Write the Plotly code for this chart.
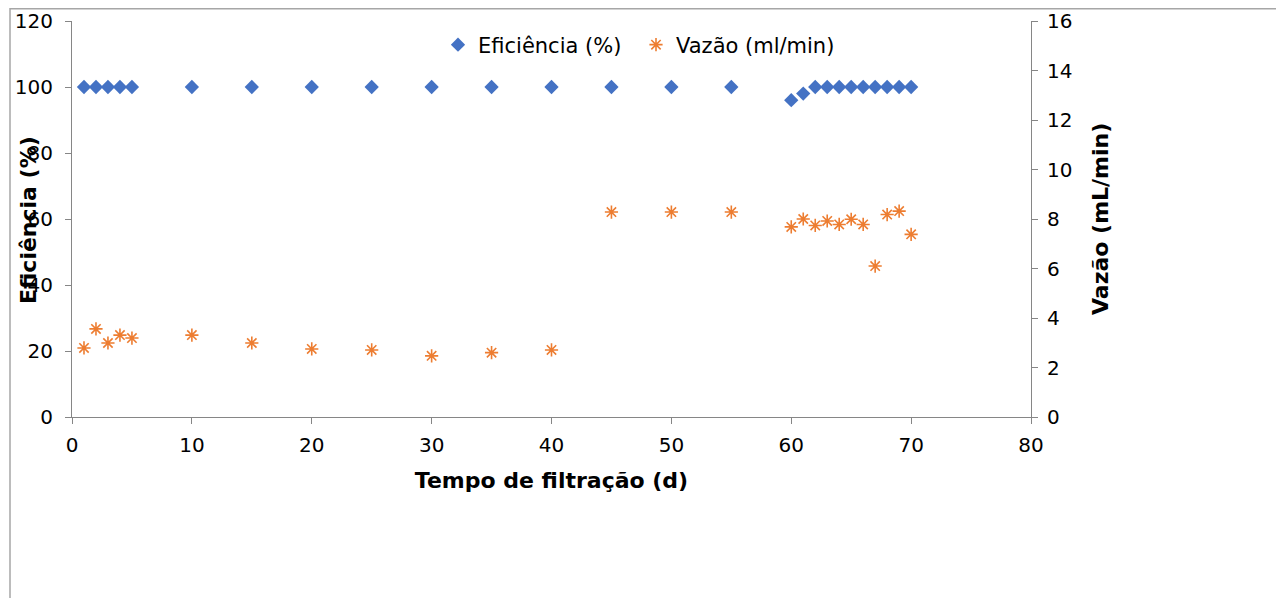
import plotly.graph_objects as go

# Data
dias_ef = [1, 2, 3, 4, 5, 10, 15, 20, 25, 30, 35, 40, 45, 50, 55, 60, 61, 62, 63, 64, 65, 66, 67, 68, 69, 70]
eficiencia = [100, 100, 100, 100, 100, 100, 100, 100, 100, 100, 100, 100, 100, 100, 100,
              96, 98, 100, 100, 100, 100, 100, 100, 100, 100, 100]
dias_vz = [1, 2, 3, 4, 5, 10, 15, 20, 25, 30, 35, 40, 45, 50, 55, 60, 61, 62, 63, 64, 65, 66, 67, 68, 69, 70]
vazao = [2.79, 3.56, 2.99, 3.31, 3.19, 3.31, 2.99, 2.75, 2.71, 2.47, 2.60, 2.71, 8.28, 8.28, 8.28,
         7.68, 8.0, 7.74, 7.92, 7.78, 7.99, 7.78, 6.10, 8.18, 8.32, 7.38]

x_ticks = [0, 10, 20, 30, 40, 50, 60, 70, 80]
y1_ticks = [0, 20, 40, 60, 80, 100, 120]
y2_ticks = [0, 2, 4, 6, 8, 10, 12, 14, 16]

FONT = "DejaVu Sans"
AX = "#868686"
FS = 20
FL = 21
FT = 22

L, T, W, H = 64, 13, 959, 396
BOT = T + H

def px(xf):
    return (xf - L) / W

def py(yf):
    return (BOT - yf) / H

fig = go.Figure()
fig.add_trace(go.Scatter(
    x=dias_ef, y=eficiencia, mode="markers", name="Eficiência (%)",
    marker=dict(symbol="diamond", size=11, color="#4472C4"),
    yaxis="y", legend="legend"))
fig.add_trace(go.Scatter(
    x=dias_vz, y=vazao, mode="markers", name="Vazão (ml/min)",
    marker=dict(symbol="asterisk-open", size=11, color="#ED7D31",
                line=dict(color="#ED7D31", width=1.6)),
    yaxis="y2", legend="legend2"))

leg_common = dict(orientation="h", yanchor="middle", xanchor="left",
                  font=dict(family=FONT, size=FL), bgcolor="rgba(0,0,0,0)")

fig.update_layout(
    width=1284, height=598,
    margin=dict(l=L, r=1284 - L - W, t=T, b=598 - BOT, autoexpand=False),
    paper_bgcolor="white", plot_bgcolor="white",
    font=dict(family=FONT, size=FS, color="black"),
    showlegend=True,
    legend=dict(x=px(430), y=py(37), **leg_common),
    legend2=dict(x=px(628), y=py(37), **leg_common),
    xaxis=dict(range=[0, 80], tickvals=x_ticks, showgrid=False, zeroline=False,
               showline=True, linecolor=AX, linewidth=1, ticks="outside",
               tickcolor=AX, ticklen=6, tickfont=dict(size=FS), ticklabelstandoff=4,
               automargin=False,
               title=dict(text="<b>Tempo de filtração (d)</b>", font=dict(size=FT), standoff=16)),
    yaxis=dict(range=[0, 120], tickvals=y1_ticks, showgrid=False, zeroline=False,
               showline=True, linecolor=AX, linewidth=1, ticks="outside",
               tickcolor=AX, ticklen=6, tickfont=dict(size=FS), ticklabelstandoff=8,
               automargin=False),
    yaxis2=dict(range=[0, 16], tickvals=y2_ticks, overlaying="y", side="right",
                showgrid=False, zeroline=False, showline=True, linecolor=AX,
                linewidth=1, ticks="outside", tickcolor=AX, ticklen=6,
                tickfont=dict(size=FS), ticklabelstandoff=5, automargin=False),
    annotations=[
        dict(text="<b>Eficiência (%)</b>", textangle=-90, xref="paper", yref="paper",
             x=px(20), y=py(212), xanchor="center", yanchor="middle",
             showarrow=False, font=dict(size=FT)),
        dict(text="<b>Vazão (mL/min)</b>", textangle=-90, xref="paper", yref="paper",
             x=px(1092), y=py(211), xanchor="center", yanchor="middle",
             showarrow=False, font=dict(size=FT)),
    ],
    shapes=[
        dict(type="rect", xref="paper", yref="paper",
             x0=px(2), x1=px(1270), y0=py(700), y1=py(0.8),
             line=dict(color="#a6a6a6", width=1.5), fillcolor="rgba(0,0,0,0)", layer="below"),
    ],
)

fig.write_html("out.html")
